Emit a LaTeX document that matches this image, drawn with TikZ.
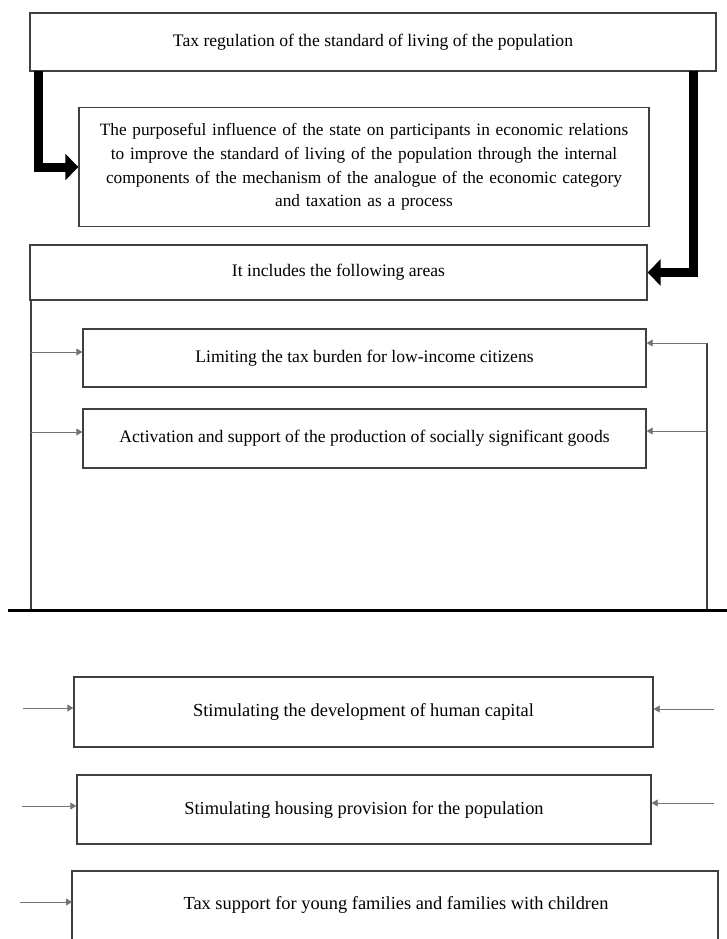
\documentclass[tikz,border=0pt]{standalone}
\usepackage{fontspec}
\setmainfont{Liberation Serif}
\usetikzlibrary{arrows.meta}
\tikzset{
  box/.style={draw=black!75, line width=1.4pt, fill=white, align=center, inner sep=2pt,
              font=\fontsize{17.6}{23.6}\selectfont, text=black},
  bigbox/.style={box, font=\fontsize{18.4}{22}\selectfont},
  thickarrow/.style={line width=9pt, -{Triangle[length=13pt,width=26pt]}, black},
  thinarrow/.style={draw=black!55, line width=0.9pt, -{Triangle[length=6pt,width=7pt]}},
  frameline/.style={draw=black!75, line width=1.3pt}
}
\begin{document}
\begin{tikzpicture}[x=1pt,y=-1pt]
\useasboundingbox (0,0) rectangle (727,939);

% boxes
\node[box, minimum width=686pt, minimum height=58pt] (b1) at (373,42) {Tax regulation of the standard of living of the population};
\node[box, minimum width=570pt, minimum height=119pt, text width=566pt, font=\fontsize{17.3}{23.6}\selectfont] (b2) at (364,167)
 {The purposeful influence of the state on participants in economic relations\\
  to improve the standard of living of the population through the internal\\
  components of the mechanism of the analogue of the economic category\\
  and taxation as a process};
\node[box, minimum width=617pt, minimum height=55pt] (b3) at (338.5,272.5) {It includes the following areas};
\node[box, minimum width=563pt, minimum height=58pt] (b4) at (364.5,358) {Limiting the tax burden for low-income citizens};
\node[box, minimum width=563pt, minimum height=59pt] (b5) at (364.5,438.5) {Activation and support of the production of socially significant goods};
\node[bigbox, minimum width=579pt, minimum height=70pt] (b6) at (363.5,712) {Stimulating the development of human capital};
\node[bigbox, minimum width=574pt, minimum height=69pt] (b7) at (364,809.5) {Stimulating housing provision for the population};
\node[font=\fontsize{18.4}{22}\selectfont, text=black] (b8) at (396,905) {Tax support for young families and families with children};
\coordinate (b8nw) at (72,871);
\coordinate (b8ne) at (718,871);
\draw[frameline, line width=1.4pt] (72,939) -- (b8nw) -- (b8ne) -- (718,939);

% thick arrows
\coordinate (tl) at (38,71);
\coordinate (tr) at (693,71);
\draw[thickarrow] (tl) |- (b2.west);
\draw[thickarrow] (tr) |- (b3.east);

% frame lines
\coordinate (fl) at (31,610);
\coordinate (rt) at (707,343);
\coordinate (rb) at (707,610);
\draw[frameline] (b3.south west -| fl) -- (fl);
\draw[frameline] (rt) -- (rb);
\coordinate (bl) at (8,610);
\coordinate (br) at (727,610);
\draw[line width=3pt, black] (bl) -- (br);

% thin arrows upper group
\coordinate (l4) at (31,352);
\coordinate (l5) at (31,432);
\coordinate (r5) at (707,431);
\draw[thinarrow] (l4) -- (l4 -| b4.west);
\draw[thinarrow] (l5) -- (l5 -| b5.west);
\draw[thinarrow] (rt) -- (rt -| b4.east);
\draw[thinarrow] (r5) -- (r5 -| b5.east);

% thin arrows lower group
\coordinate (l6) at (23,708);
\coordinate (r6) at (714,709);
\coordinate (l7) at (22,806);
\coordinate (r7) at (714,803);
\coordinate (l8) at (20,902);
\draw[thinarrow] (l6) -- (l6 -| b6.west);
\draw[thinarrow] (r6) -- (r6 -| b6.east);
\draw[thinarrow] (l7) -- (l7 -| b7.west);
\draw[thinarrow] (r7) -- (r7 -| b7.east);
\draw[thinarrow] (l8) -- (l8 -| b8nw);
\end{tikzpicture}
\end{document}
